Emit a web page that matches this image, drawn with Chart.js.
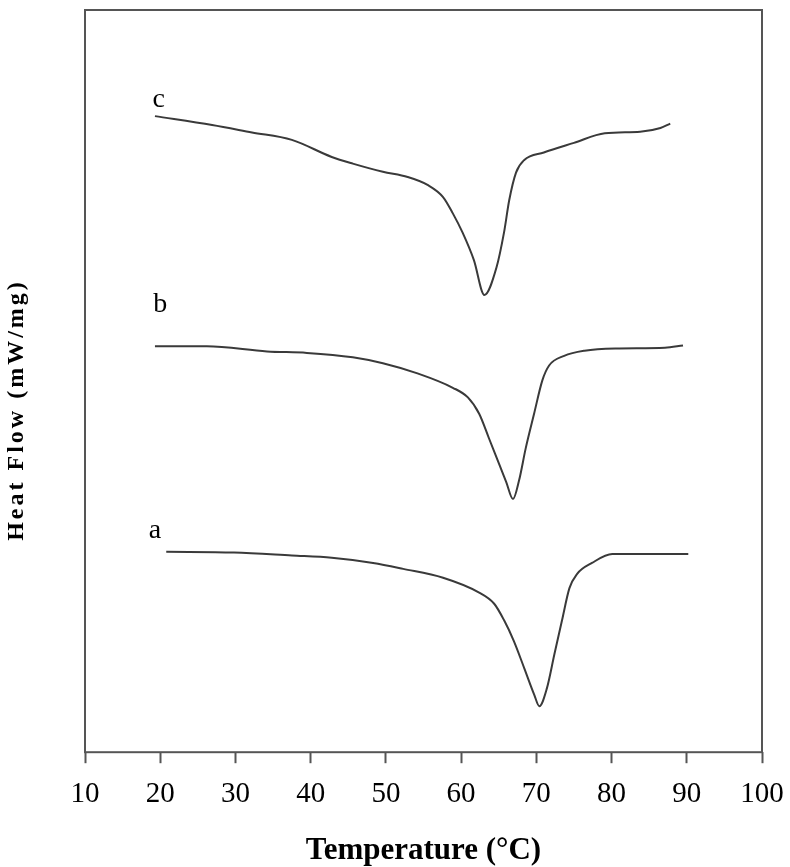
<!DOCTYPE html>
<html>
<head>
<meta charset="utf-8">
<script src="https://cdn.jsdelivr.net/npm/chart.js@4/dist/chart.umd.min.js"></script>
<style>
  html, body { margin: 0; padding: 0; background: #fff; }
  #wrap { width: 790px; height: 867px; }
</style>
</head>
<body>
<div id="wrap"><canvas id="dsc_chart"></canvas></div>
<script>
// temperature (°C) and heat flow (arbitrary units, no y ticks on the original)
const temp_a = [20.8, 29.8, 37.5, 42.8, 48.3, 52.3, 57.6, 62.4, 64.4, 65.7, 67.0, 68.4, 69.7, 70.4, 71.4, 72.4, 73.4, 74.4, 75.4, 77.4, 80.1, 83.8, 90.2];
const flow_a = [27.0, 26.9, 26.5, 26.2, 25.5, 24.7, 23.5, 21.5, 20.0, 17.8, 15.0, 11.3, 7.8, 6.2, 8.6, 13.2, 17.7, 22.1, 24.0, 25.5, 26.7, 26.7, 26.7];

const temp_b = [19.3, 26.2, 34.2, 39.5, 45.6, 49.6, 54.3, 58.9, 60.9, 62.4, 63.7, 65.1, 66.0, 66.9, 67.7, 68.6, 69.7, 70.8, 71.7, 73.7, 76.4, 80.5, 87.1, 89.5];
const flow_b = [54.7, 54.7, 54.0, 53.8, 53.2, 52.4, 51.0, 49.1, 47.8, 45.6, 42.3, 38.7, 36.4, 34.1, 36.6, 41.0, 45.6, 50.1, 52.1, 53.4, 54.1, 54.4, 54.5, 54.8];

const temp_c = [19.3, 26.9, 32.2, 37.5, 42.8, 45.6, 49.6, 52.9, 55.6, 57.6, 58.9, 60.2, 61.7, 63.1, 64.7, 65.7, 66.4, 67.3, 68.4, 71.0, 75.0, 79.1, 83.8, 86.5, 87.8];
const flow_c = [85.7, 84.5, 83.5, 82.5, 80.2, 79.3, 78.2, 77.5, 76.4, 74.8, 72.6, 70.0, 66.3, 61.6, 65.3, 70.0, 74.4, 78.1, 79.8, 80.8, 82.1, 83.4, 83.6, 84.1, 84.7];

const curve_names = ["a", "b", "c"];
const x_ticks = [10, 20, 30, 40, 50, 60, 70, 80, 90, 100];

// where the letter of each curve sits (data units)
const name_spots = {
  a: { x: 19.3, y: 29.8 },
  b: { x: 20.0, y: 60.3 },
  c: { x: 19.8, y: 87.9 },
};

const line_color = "#3a3a3a";
const serif = "'Liberation Serif', 'Times New Roman', serif";

const to_points = (xs, ys) => xs.map((x, i) => ({ x: x, y: ys[i] }));

const make_set = (name, xs, ys) => ({
  label: name,
  data: to_points(xs, ys),
  borderColor: line_color,
  borderWidth: 2,
  pointRadius: 0,
  fill: false,
  cubicInterpolationMode: "monotone",
});

// frame round the plot, curve letters, rotated y title
const frame_plugin = {
  id: "frame_plugin",
  afterDraw: (chart) => {
    const { ctx, chartArea, scales } = chart;
    ctx.save();
    ctx.strokeStyle = "#555";
    ctx.lineWidth = 2;
    ctx.strokeRect(chartArea.left, chartArea.top, chartArea.right - chartArea.left, chartArea.bottom - chartArea.top);

    ctx.fillStyle = "#000";
    ctx.font = "28px " + serif;
    ctx.textAlign = "center";
    ctx.textBaseline = "middle";
    curve_names.forEach((n) => {
      const spot = name_spots[n];
      ctx.fillText(n, scales.x.getPixelForValue(spot.x), scales.y.getPixelForValue(spot.y));
    });

    ctx.translate(17, 410);
    ctx.rotate(-Math.PI / 2);
    ctx.font = "bold 24px " + serif;
    ctx.letterSpacing = "3px";
    ctx.fillText("Heat Flow (mW/mg)", 0, 0);
    ctx.restore();
  },
};

const ctx = document.getElementById("dsc_chart").getContext("2d");
const dsc_chart = new Chart(ctx, {
  type: "line",
  data: {
    datasets: [
      make_set("a", temp_a, flow_a),
      make_set("b", temp_b, flow_b),
      make_set("c", temp_c, flow_c),
    ],
  },
  options: {
    responsive: true,
    maintainAspectRatio: false,
    animation: false,
    layout: { padding: { left: 85, right: 28, top: 10, bottom: 0 } },
    plugins: {
      legend: { display: false },
      tooltip: { enabled: false },
    },
    scales: {
      x: {
        type: "linear",
        min: 10,
        max: 100,
        afterBuildTicks: (axis) => {
          axis.ticks = x_ticks.map((v) => ({ value: v }));
        },
        afterFit: (axis) => {
          axis.paddingLeft = 0;
          axis.paddingRight = 0;
        },
        border: { display: false },
        grid: {
          display: true,
          drawOnChartArea: false,
          drawTicks: true,
          tickLength: 11,
          tickWidth: 2,
          color: "#555",
        },
        ticks: {
          color: "#000",
          padding: 14,
          maxRotation: 0,
          font: { family: serif, size: 29 },
        },
        title: {
          display: true,
          text: "Temperature (°C)",
          color: "#000",
          padding: { top: 9, bottom: 1 },
          font: { family: serif, size: 31, weight: "bold", lineHeight: 1.0 },
        },
      },
      y: {
        display: false,
        min: 0,
        max: 100,
      },
    },
  },
  plugins: [frame_plugin],
});
</script>
</body>
</html>
